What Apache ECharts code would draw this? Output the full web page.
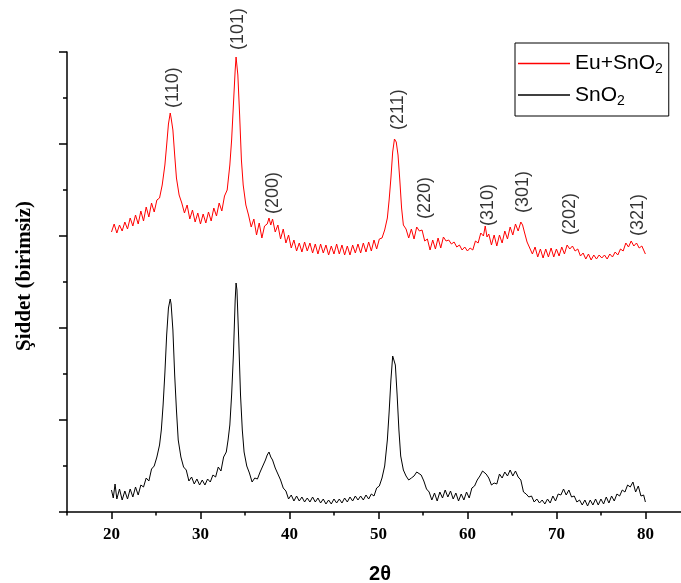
<!DOCTYPE html>
<html>
<head>
<meta charset="utf-8">
<script src="https://cdn.jsdelivr.net/npm/echarts@6/dist/echarts.min.js"></script>
<style>html,body{margin:0;padding:0;background:#fff}#c{width:681px;height:583px}</style>
</head>
<body>
<div id="c"></div>
<script>
// X-ray diffraction patterns, intensity in arbitrary units (unlabelled axis)
const seriesNames = ['Eu+SnO2', 'SnO2'];
const xMajorTicks = [20, 30, 40, 50, 60, 70, 80];
const xMinorTicks = [15, 25, 35, 45, 55, 65, 75];

const euSnO2 = [
[20.0,280],[20.3,288],[20.6,279],[20.9,287],[21.2,281],[21.5,290],[21.8,283],[22.1,294],[22.4,286],[22.7,297],
[23.0,288],[23.3,301],[23.6,291],[23.9,305],[24.2,295],[24.5,309],[24.8,300],[25.1,312],[25.4,314],[25.7,327],
[26.0,347],[26.2,367],[26.4,388],[26.6,399],[26.7,394],[26.9,382],[27.1,357],[27.3,334],[27.6,317],[27.9,309],
[28.2,299],[28.5,307],[28.8,293],[29.1,302],[29.4,290],[29.7,299],[30.0,288],[30.3,298],[30.6,289],[30.9,300],
[31.2,291],[31.5,304],[31.8,296],[32.1,309],[32.4,301],[32.7,316],[33.0,322],[33.3,347],[33.5,372],[33.7,407],
[33.9,442],[34.0,455],[34.1,456],[34.2,437],[34.4,397],[34.6,352],[34.8,327],[35.1,307],[35.4,297],[35.7,285],
[36.0,293],[36.3,277],[36.6,289],[36.9,274],[37.2,286],[37.5,288],[37.7,294],[37.9,287],[38.1,293],[38.4,280],
[38.7,287],[39.0,273],[39.3,283],[39.6,269],[39.9,277],[40.2,264],[40.5,272],[40.8,261],[41.1,269],[41.4,260],
[41.7,270],[42.0,261],[42.3,269],[42.6,259],[42.9,268],[43.2,258],[43.5,268],[43.8,259],[44.1,267],[44.4,257],
[44.7,266],[45.0,258],[45.3,268],[45.6,258],[45.9,267],[46.2,257],[46.5,266],[46.8,257],[47.1,267],[47.4,259],
[47.7,268],[48.0,259],[48.3,269],[48.6,260],[48.9,270],[49.2,261],[49.5,272],[49.8,263],[50.1,273],[50.4,274],
[50.7,282],[51.0,294],[51.2,312],[51.4,334],[51.6,360],[51.8,373],[51.9,374],[52.0,370],[52.2,357],[52.4,332],
[52.6,304],[52.8,287],[53.1,283],[53.4,274],[53.7,283],[54.0,273],[54.3,285],[54.6,281],[54.9,282],[55.2,271],
[55.5,273],[55.8,262],[56.1,272],[56.4,263],[56.7,274],[57.0,264],[57.3,275],[57.6,271],[57.9,272],[58.2,268],
[58.5,270],[58.8,265],[59.1,267],[59.4,262],[59.7,265],[60.0,261],[60.3,264],[60.6,262],[60.9,271],[61.2,269],
[61.5,279],[61.8,276],[62.0,286],[62.2,275],[62.4,278],[62.7,267],[63.0,277],[63.3,266],[63.6,277],[63.9,269],
[64.2,281],[64.5,273],[64.8,285],[65.1,277],[65.4,288],[65.7,281],[66.0,290],[66.2,287],[66.4,280],[66.7,270],
[67.0,264],[67.3,258],[67.6,265],[67.9,255],[68.2,263],[68.5,254],[68.8,263],[69.1,255],[69.4,264],[69.7,255],
[70.0,263],[70.3,256],[70.6,265],[70.9,258],[71.2,267],[71.5,263],[71.8,266],[72.1,261],[72.4,263],[72.7,256],
[73.0,259],[73.3,253],[73.6,258],[73.9,252],[74.2,257],[74.5,253],[74.8,257],[75.1,254],[75.4,257],[75.7,253],
[76.0,258],[76.3,255],[76.6,260],[76.9,257],[77.2,263],[77.5,261],[77.8,269],[78.1,265],[78.4,271],[78.7,266],
[79.0,269],[79.3,264],[79.6,266],[80.0,258]
];

const snO2 = [
[20.0,22],[20.2,14],[20.4,28],[20.6,13],[20.9,23],[21.2,12],[21.5,21],[21.8,13],[22.1,23],[22.4,15],
[22.7,25],[23.0,17],[23.3,27],[23.6,25],[23.9,34],[24.2,31],[24.5,43],[24.8,46],[25.1,55],[25.4,67],
[25.6,82],[25.8,107],[26.0,139],[26.2,177],[26.4,204],[26.6,213],[26.7,208],[26.9,182],[27.1,137],[27.3,102],
[27.5,72],[27.8,55],[28.1,45],[28.4,42],[28.7,31],[29.0,35],[29.3,28],[29.6,33],[29.9,27],[30.2,32],
[30.5,27],[30.8,33],[31.1,30],[31.4,37],[31.7,35],[32.0,45],[32.3,41],[32.6,55],[32.9,60],[33.1,72],
[33.3,87],[33.5,117],[33.7,157],[33.9,212],[34.0,229],[34.1,222],[34.3,172],[34.5,117],[34.7,82],[34.9,60],
[35.2,46],[35.5,39],[35.8,30],[36.1,34],[36.4,33],[36.7,40],[37.0,46],[37.3,52],[37.5,57],[37.7,60],
[37.9,55],[38.1,52],[38.4,44],[38.7,38],[39.0,32],[39.3,24],[39.6,21],[39.9,13],[40.2,17],[40.5,11],
[40.8,16],[41.1,11],[41.4,15],[41.7,10],[42.0,14],[42.3,10],[42.6,15],[42.9,10],[43.2,14],[43.5,9],
[43.8,13],[44.1,8],[44.4,12],[44.7,8],[45.0,13],[45.3,9],[45.6,13],[45.9,9],[46.2,14],[46.5,10],
[46.8,15],[47.1,11],[47.4,16],[47.7,12],[48.0,16],[48.3,12],[48.6,17],[48.9,13],[49.2,18],[49.5,16],
[49.8,24],[50.1,26],[50.4,34],[50.7,46],[51.0,72],[51.2,100],[51.4,132],[51.6,156],[51.7,158],[51.9,147],
[52.1,117],[52.3,82],[52.5,56],[52.8,42],[53.1,36],[53.4,32],[53.7,34],[54.0,36],[54.3,40],[54.5,42],
[54.8,37],[55.1,31],[55.4,23],[55.7,20],[56.0,12],[56.3,19],[56.6,11],[56.9,20],[57.2,14],[57.5,22],
[57.8,15],[58.1,21],[58.4,13],[58.7,19],[59.0,11],[59.3,18],[59.6,12],[59.9,20],[60.2,14],[60.5,24],
[60.8,26],[61.1,32],[61.4,36],[61.7,41],[61.9,43],[62.1,38],[62.4,34],[62.7,27],[63.0,29],[63.3,28],
[63.6,38],[63.9,34],[64.2,40],[64.5,36],[64.8,42],[65.1,36],[65.4,41],[65.7,35],[66.0,32],[66.3,20],
[66.6,18],[66.9,15],[67.2,16],[67.5,10],[67.8,13],[68.1,9],[68.4,12],[68.7,8],[69.0,13],[69.3,9],
[69.6,16],[69.9,11],[70.2,18],[70.5,17],[70.8,23],[71.1,17],[71.4,22],[71.7,15],[72.0,16],[72.3,10],
[72.6,12],[72.9,7],[73.2,12],[73.5,6],[73.8,12],[74.1,7],[74.4,13],[74.7,7],[75.0,13],[75.3,8],
[75.6,15],[75.9,9],[76.2,16],[76.5,11],[76.8,18],[77.1,16],[77.4,22],[77.7,20],[78.0,27],[78.3,25],
[78.6,30],[78.9,20],[79.2,26],[79.5,16],[79.8,17],[80.0,10]
];

// Miller-index annotations: label text, 2θ of label, level of label foot
const peakNames = ['(110)', '(101)', '(200)', '(211)', '(220)', '(310)', '(301)', '(202)', '(321)'];
const peakPos   = [26.86, 34.24, 38.1, 52.16, 55.2, 62.3, 66.2, 71.57, 79.2];
const peakLevel = [404, 462, 298, 382, 293, 286, 299, 277, 276];

const chart = echarts.init(document.getElementById('c'));
const serif = '"Liberation Serif", "Times New Roman", serif';
const sans = '"Liberation Sans", Arial, sans-serif';

chart.setOption({
  animation: false,
  backgroundColor: '#fff',
  grid: { left: 67, right: 0, top: 52, bottom: 71, containLabel: false, outerBoundsMode: 'none' },
  legend: {
    orient: 'vertical',
    left: 515, top: 43,
    padding: [10, 6, 8, 3],
    itemGap: 8,
    itemWidth: 52, itemHeight: 1.5,
    icon: 'rect',
    borderColor: '#000', borderWidth: 1,
    data: seriesNames,
    formatter: function (n) { return n.replace('O2', 'O{sub|2}'); },
    textStyle: {
      fontFamily: sans, fontSize: 21, color: '#000', lineHeight: 20,
      rich: { sub: { fontFamily: sans, fontSize: 14, color: '#000', padding: [12, 0, 0, 0] } }
    }
  },
  xAxis: [{
    type: 'value', min: 15, max: 84,
    name: '2θ', nameLocation: 'middle', nameGap: 52,
    nameTextStyle: { fontFamily: sans, fontWeight: 'bold', fontSize: 20, color: '#000', padding: [0, 0, 0, 12] },
    axisLine: { show: true, onZero: false, lineStyle: { color: '#000', width: 1.5 } },
    axisTick: { show: true, inside: false, length: 7, customValues: xMajorTicks, lineStyle: { color: '#000', width: 1.5 } },
    axisLabel: { customValues: xMajorTicks, margin: 14, fontFamily: serif, fontWeight: 'bold', fontSize: 17, color: '#000' },
    splitLine: { show: false }
  }, {
    type: 'value', min: 15, max: 84, position: 'bottom', gridIndex: 0,
    axisLine: { show: false },
    axisTick: { show: true, inside: false, length: 3.5, customValues: xMinorTicks, lineStyle: { color: '#000', width: 1.5 } },
    axisLabel: { show: false },
    splitLine: { show: false }
  }],
  yAxis: {
    type: 'value', min: 0, max: 460, interval: 92,
    name: 'Şiddet (birimsiz)', nameLocation: 'middle', nameGap: 32, nameRotate: 90,
    nameTextStyle: { fontFamily: serif, fontWeight: 'bold', fontSize: 21, color: '#000', padding: [0, 0, 0, 12] },
    axisLine: { show: true, lineStyle: { color: '#000', width: 1.5 } },
    axisTick: { show: true, inside: false, length: 8, lineStyle: { color: '#000', width: 1.5 } },
    minorTick: { show: true, splitNumber: 2, length: 4, lineStyle: { color: '#000', width: 1.5 } },
    axisLabel: { show: false },
    splitLine: { show: false },
    minorSplitLine: { show: false }
  },
  series: [{
    name: seriesNames[0], type: 'line', data: euSnO2, symbol: 'none',
    lineStyle: { color: '#ff0000', width: 1 }, itemStyle: { color: '#ff0000' }
  }, {
    name: seriesNames[1], type: 'line', data: snO2, symbol: 'none',
    lineStyle: { color: '#000', width: 1 }, itemStyle: { color: '#000' }
  }, {
    name: 'peaks', type: 'scatter', symbolSize: 0, clip: false, silent: true,
    data: peakNames.map(function (n, i) { return { value: [peakPos[i], peakLevel[i]], name: n }; }),
    label: {
      show: true, position: 'top', distance: 0, rotate: 90, align: 'left', verticalAlign: 'middle',
      formatter: '{b}', fontFamily: sans, fontSize: 18, color: '#000'
    }
  }]
});
</script>
</body>
</html>
